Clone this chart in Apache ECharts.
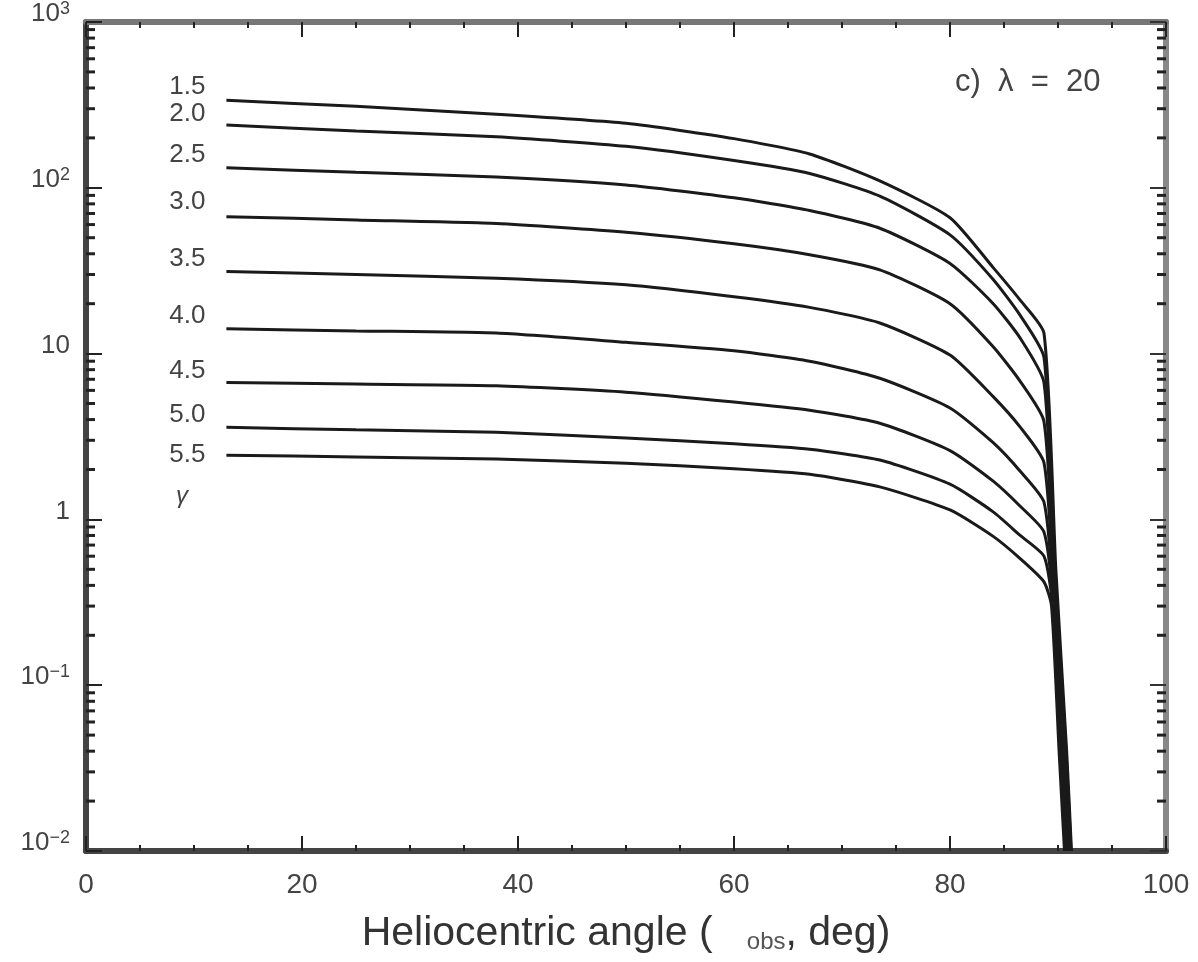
<!DOCTYPE html>
<html>
<head>
<meta charset="utf-8">
<script src="https://cdn.jsdelivr.net/npm/echarts@6/dist/echarts.min.js"></script>
<style>
html,body{margin:0;padding:0;background:#fff;}
#chart{width:1198px;height:962px;}
</style>
</head>
<body>
<div id="chart"></div>
<script>
// ---- data ----
const curveNames = ['1.5', '2.0', '2.5', '3.0', '3.5', '4.0', '4.5', '5.0', '5.5'];
const angleX = [13, 25, 38, 50, 60, 67, 73.5, 80, 84, 86.5, 88.7];
const curve15 = [337, 310, 278, 245, 198, 160, 110, 66, 33, 21, 13.3];
const curve20 = [239, 220, 203, 178, 146, 122, 89, 52, 28, 17, 9.5];
const curve25 = [132, 124, 116, 104, 87, 73, 57, 35, 20, 12.4, 6.7];
const curve30 = [67, 64, 61, 54, 46, 39.5, 32, 20, 11, 6.8, 3.9];
const curve35 = [31.3, 30, 28.5, 26, 22, 19, 15.3, 9.8, 5.5, 3.6, 2.2];
const curve40 = [14.1, 13.7, 13.3, 11.7, 10.4, 9.0, 7.1, 4.7, 2.9, 1.95, 1.27];
const curve45 = [6.7, 6.55, 6.4, 5.85, 5.1, 4.55, 3.8, 2.6, 1.7, 1.2, 0.84];
const curve50 = [3.59, 3.47, 3.35, 3.1, 2.86, 2.65, 2.28, 1.63, 1.11, 0.8, 0.6];
const curve55 = [2.44, 2.38, 2.31, 2.18, 2.02, 1.87, 1.57, 1.14, 0.79, 0.58, 0.42];
// steep drop near the limb: [angle, value] pairs per curve
const drop15 = [[89.8, 0.5], [90.8, 0.04], [91.25, 0.01]];
const drop20 = [[89.75, 0.45], [90.75, 0.04], [91.2, 0.01]];
const drop25 = [[89.7, 0.42], [90.7, 0.04], [91.15, 0.01]];
const drop30 = [[89.65, 0.4], [90.6, 0.04], [91.1, 0.01]];
const drop35 = [[89.6, 0.38], [90.5, 0.04], [91.0, 0.01]];
const drop40 = [[89.55, 0.36], [90.4, 0.04], [90.9, 0.01]];
const drop45 = [[89.5, 0.34], [90.3, 0.04], [90.8, 0.01]];
const drop50 = [[89.45, 0.32], [90.2, 0.04], [90.7, 0.01]];
const drop55 = [[89.4, 0.3], [90.1, 0.04], [90.6, 0.01]];
const curves = [curve15, curve20, curve25, curve30, curve35, curve40, curve45, curve50, curve55];
const drops = [drop15, drop20, drop25, drop30, drop35, drop40, drop45, drop50, drop55];
const labelOffsets = [-13, -11, -13, -15, -13, -13, -12, -13, 0];
const yDecades = [0.01, 0.1, 1, 10, 100, 1000];
const yMinorMultipliers = [2, 3, 4, 5, 6, 7, 8, 9];
const xAxisTitle = 'Heliocentric angle (';
const xAxisSub = 'obs';
const xAxisTail = ', deg)';
const panelLabel = 'c)  λ  =  20';
const paramSymbol = 'γ';

// ---- chart ----
const FONT = '"Liberation Sans", Arial, Helvetica, sans-serif';
const TXT = '#444';
const chart = echarts.init(document.getElementById('chart'), null, {renderer: 'canvas'});

const minorTickData = [];
yDecades.slice(0, -1).forEach(d => yMinorMultipliers.forEach(m => minorTickData.push([0, d * m])));

function yLabel(v) {
  const e = Math.round(Math.log10(v));
  if (e === 0) return '{b|1}';
  if (e === 1) return '{b|10}';
  return '{b|10}{s|' + (e < 0 ? '\u2212' + (-e) : e) + '}';
}

const lineSeries = curves.map((vals, i) => ({
  type: 'line',
  name: curveNames[i],
  data: angleX.map((x, j) => [x, vals[j]]).concat(drops[i]),
  showSymbol: false,
  symbol: 'none',
  smooth: 0.2,
  lineStyle: {color: '#1a1a1a', width: 3},
  silent: true,
  animation: false,
  z: 3,
  markPoint: {
    silent: true,
    symbol: 'circle',
    symbolSize: 2,
    itemStyle: {color: 'rgba(0,0,0,0)', borderWidth: 0},
    data: [{
      coord: [angleX[0], vals[0]],
      label: {
        show: true, position: 'left', distance: 20, offset: [0, labelOffsets[i]],
        formatter: curveNames[i], fontSize: 26, fontFamily: FONT, color: TXT, opacity: 1
      }
    }]
  }
}));

const axisCommonX = {
  type: 'value', min: 0, max: 100, interval: 20,
  splitLine: {show: false},
  axisTick: {show: true, inside: true, length: 15, lineStyle: {color: '#222', width: 2}},
  minorTick: {show: true, splitNumber: 4, length: 6, lineStyle: {color: '#222', width: 2}},
  minorSplitLine: {show: false}
};

const option = {
  backgroundColor: '#fff',
  animation: false,
  grid: {left: 86, right: 32, top: 17, bottom: 111, containLabel: false},
  xAxis: [
    Object.assign({}, axisCommonX, {
      position: 'bottom',
      axisLine: {show: true, onZero: false, lineStyle: {color: '#444', width: 6}},
      axisLabel: {show: true, fontSize: 28, fontFamily: FONT, color: TXT, margin: 20},
      name: xAxisTitle + '   {sub|' + xAxisSub + '}' + xAxisTail,
      nameLocation: 'middle', nameGap: 62,
      nameTextStyle: {
        fontSize: 41, fontFamily: FONT, color: '#333',
        rich: {sub: {fontSize: 24, fontFamily: FONT, color: '#555', verticalAlign: 'bottom', padding: [16, 0, 0, 0]}}
      }
    }),
    Object.assign({}, axisCommonX, {
      position: 'top',
      axisLine: {show: true, onZero: false, lineStyle: {color: '#777', width: 6}},
      axisLabel: {show: false}
    })
  ],
  yAxis: [
    {
      type: 'log', logBase: 10, min: 0.01, max: 1000, position: 'left',
      splitLine: {show: false},
      axisLine: {show: true, onZero: false, lineStyle: {color: '#444', width: 6}},
      axisTick: {show: true, inside: true, length: 16, lineStyle: {color: '#222', width: 2}},
      axisLabel: {
        show: true, margin: 16, formatter: yLabel, verticalAlign: 'middle', padding: [0, 0, 16, 0],
        rich: {
          b: {fontSize: 26, fontFamily: FONT, color: TXT, lineHeight: 28},
          s: {fontSize: 18, fontFamily: FONT, color: TXT, verticalAlign: 'top', lineHeight: 18}
        }
      }
    },
    {
      type: 'log', logBase: 10, min: 0.01, max: 1000, position: 'right',
      splitLine: {show: false},
      axisLine: {show: true, onZero: false, lineStyle: {color: '#888', width: 6}},
      axisTick: {show: true, inside: true, length: 16, lineStyle: {color: '#333', width: 2}},
      axisLabel: {show: false}
    }
  ],
  series: lineSeries.concat([{
    type: 'custom',
    name: 'minorTicks',
    xAxisIndex: 0, yAxisIndex: 0,
    data: minorTickData,
    silent: true,
    clip: false,
    z: 5,
    renderItem: function (params, api) {
      const v = api.value(1);
      const pl = api.coord([0, v]);
      const pr = api.coord([100, v]);
      const st = {stroke: '#222', lineWidth: 3};
      return {
        type: 'group',
        children: [
          {type: 'line', shape: {x1: pl[0], y1: pl[1], x2: pl[0] + 9, y2: pl[1]}, style: st},
          {type: 'line', shape: {x1: pr[0], y1: pr[1], x2: pr[0] - 9, y2: pr[1]}, style: st}
        ]
      };
    }
  }]),
  graphic: [
    {type: 'text', left: 955, top: 67, style: {text: panelLabel, fontSize: 31, fontFamily: FONT, fill: TXT}},
    {type: 'text', left: 176, top: 484, style: {text: paramSymbol, fontSize: 24, fontStyle: 'italic', fontFamily: FONT, fill: TXT}}
  ]
};
chart.setOption(option);
</script>
</body>
</html>
